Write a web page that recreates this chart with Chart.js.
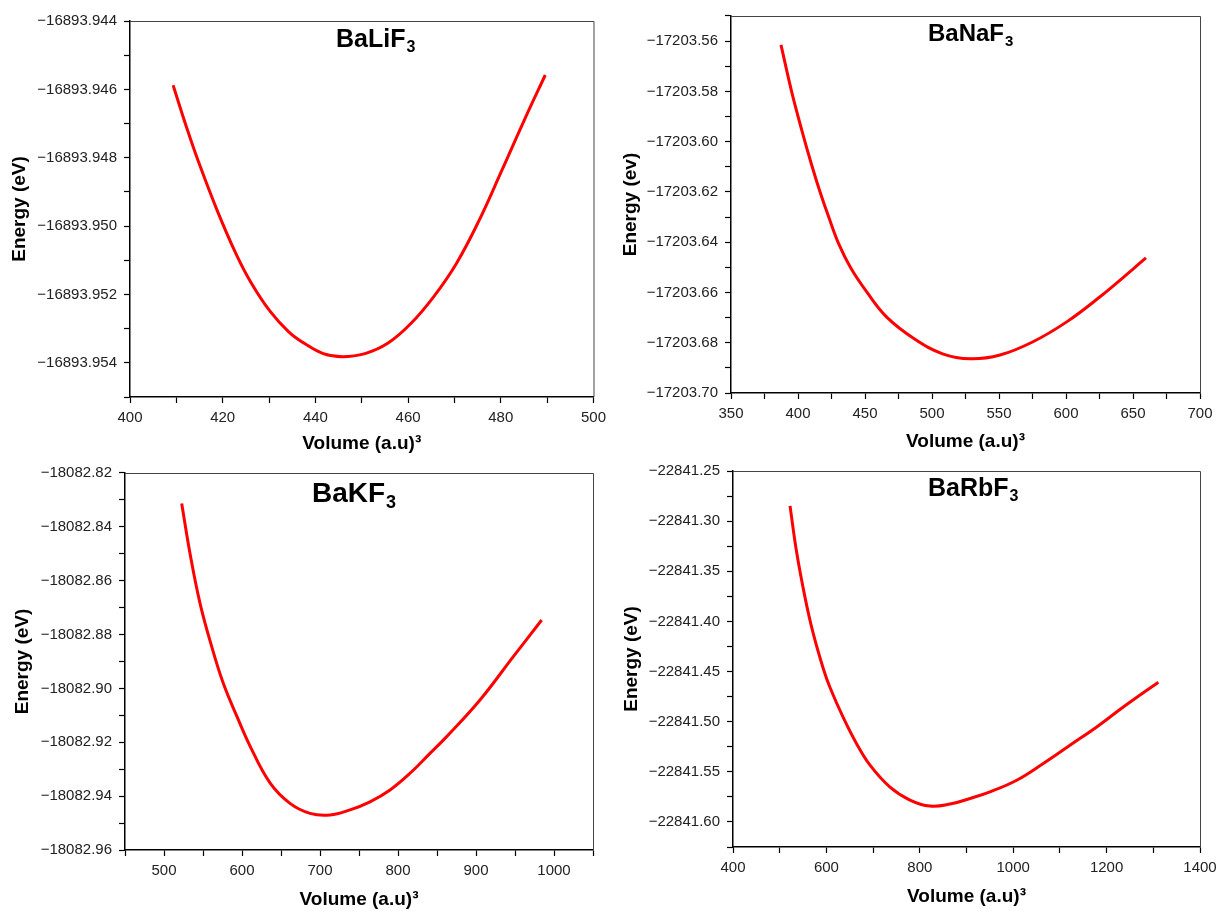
<!DOCTYPE html>
<html lang="en">
<head>
  <meta charset="UTF-8" />
  <title>Energy vs Volume</title>
  <script src="https://cdn.jsdelivr.net/npm/chart.js"></script>
  <style>
    body { margin: 0; background: #fff; }
    #wrap { position: relative; width: 1225px; height: 911px; }
    canvas { position: absolute; }
  </style>
</head>
<body>
  <div id="wrap">
    <canvas id="c1" width="612" height="455" style="left:0;top:0"></canvas>
    <canvas id="c2" width="613" height="455" style="left:612px;top:0"></canvas>
    <canvas id="c3" width="612" height="456" style="left:0;top:455px"></canvas>
    <canvas id="c4" width="613" height="456" style="left:612px;top:455px"></canvas>
  </div>

  <script>
    // BaLiF3
    const liVolume = [409.3, 412.2, 414.7, 418.8, 422.9, 426.1, 430.2, 434.3, 437.6, 441.7, 445.8,
      450.7, 455.6, 460.6, 465.5, 470.4, 475.3, 480.2, 485.1, 489.6];
    const liEnergy = [-16893.94588, -16893.94711, -16893.94809, -16893.94954, -16893.95082, -16893.95165,
      -16893.95249, -16893.95310, -16893.95343, -16893.95373, -16893.95382, -16893.95373, -16893.95343,
      -16893.95285, -16893.95207, -16893.95110, -16893.94984, -16893.94838, -16893.94689, -16893.94558];
    const liVolumeTicks = [400, 420, 440, 460, 480, 500];
    const liEnergyTicks = [-16893.954, -16893.952, -16893.950, -16893.948, -16893.946, -16893.944];

    // BaNaF3
    const naVolume = [387.3, 395.3, 402.8, 410.2, 416.4, 423.0, 430.4, 439.4, 451.3, 466.2, 487.0,
      507.9, 528.7, 550.7, 575.4, 600.8, 625.4, 650.0, 659.7];
    const naEnergy = [-17203.5615, -17203.5802, -17203.5954, -17203.6093, -17203.6199, -17203.6301,
      -17203.6407, -17203.6503, -17203.6598, -17203.6698, -17203.6785, -17203.6844, -17203.6864,
      -17203.6849, -17203.6796, -17203.6716, -17203.6617, -17203.6507, -17203.6462];
    const naVolumeTicks = [350, 400, 450, 500, 550, 600, 650, 700];
    const naEnergyTicks = [-17203.70, -17203.68, -17203.66, -17203.64, -17203.62, -17203.60, -17203.58, -17203.56];

    // BaKF3
    const kVolume = [522.7, 533.3, 546.2, 561.2, 576.0, 593.2, 610.3, 635.9, 661.5, 687.2, 712.8,
      738.5, 764.1, 789.8, 815.4, 841.0, 862.4, 905.1, 947.8, 984.2];
    const kEnergy = [-18082.8313, -18082.8498, -18082.8684, -18082.8845, -18082.8981, -18082.9102,
      -18082.9214, -18082.9351, -18082.9427, -18082.9464, -18082.9470, -18082.9451, -18082.9421,
      -18082.9377, -18082.9315, -18082.9241, -18082.9179, -18082.9043, -18082.8882, -18082.8746];
    const kVolumeTicks = [500, 600, 700, 800, 900, 1000];
    const kEnergyTicks = [-18082.96, -18082.94, -18082.92, -18082.90, -18082.88, -18082.86, -18082.84, -18082.82];

    // BaRbF3
    const rbVolume = [522.1, 536.4, 554.2, 571.9, 593.4, 607.7, 636.2, 664.9, 693.4, 736.2, 779.0,
      821.8, 864.7, 907.5, 950.3, 1007.5, 1064.4, 1121.6, 1178.8, 1235.7, 1310.7];
    const rbEnergy = [-22841.2848, -22841.3314, -22841.3760, -22841.4123, -22841.4472, -22841.4659,
      -22841.4960, -22841.5222, -22841.5434, -22841.5653, -22841.5782, -22841.5842, -22841.5822,
      -22841.5766, -22841.5700, -22841.5584, -22841.5417, -22841.5235, -22841.5053, -22841.4854, -22841.4606];
    const rbVolumeTicks = [400, 600, 800, 1000, 1200, 1400];
    const rbEnergyTicks = [-22841.60, -22841.55, -22841.50, -22841.45, -22841.40, -22841.35, -22841.30, -22841.25];

    const FONT = '"Liberation Sans", Arial, sans-serif';

    // major ticks from the arrays, one minor tick between each pair
    function tickBuilder(major) {
      return scale => {
        const half = (major[1] - major[0]) / 2;
        const n0 = Math.ceil((scale.min - major[0]) / half - 1e-6);
        const n1 = Math.floor((scale.max - major[0]) / half + 1e-6);
        const out = [];
        for (let n = n0; n <= n1; n++) out.push({ value: major[0] + n * half, isMajor: n % 2 === 0 });
        scale.ticks = out;
      };
    }

    const framePlugin = {
      id: 'frame',
      afterDraw(chart) {
        const { ctx, chartArea: a } = chart;
        const o = chart.options.plugins.frame;
        ctx.save();
        ctx.strokeStyle = '#444';
        ctx.lineWidth = 1;
        ctx.beginPath();
        ctx.moveTo(a.left, a.top + 0.5);
        ctx.lineTo(a.right + 0.5, a.top + 0.5);
        ctx.lineTo(a.right + 0.5, a.bottom);
        ctx.stroke();
        // compound name with subscript 3
        ctx.fillStyle = '#000';
        ctx.textBaseline = 'alphabetic';
        ctx.font = 'bold ' + o.size + 'px ' + FONT;
        ctx.fillText(o.name, o.x, o.y);
        const w = ctx.measureText(o.name).width;
        ctx.font = 'bold ' + Math.round(o.size * 0.64) + 'px ' + FONT;
        ctx.fillText('3', o.x + w + 1, o.y + o.size * 0.2);
        ctx.restore();
      }
    };

    function makePanel(id, p) {
      new Chart(document.getElementById(id), {
        type: 'scatter',
        data: {
          datasets: [{
            data: p.vol.map((v, i) => ({ x: v, y: p.en[i] })),
            showLine: true,
            borderColor: '#ff0000',
            borderWidth: 3,
            pointRadius: 0,
            tension: 0.4
          }]
        },
        plugins: [framePlugin],
        options: {
          responsive: false,
          animation: false,
          layout: { padding: { top: p.padT, right: p.padR, left: 0, bottom: 0 } },
          plugins: {
            legend: { display: false },
            tooltip: { enabled: false },
            frame: { name: p.name, size: p.titleSize, x: p.titleX, y: p.titleY }
          },
          scales: {
            x: {
              type: 'linear',
              min: p.xMin, max: p.xMax,
              afterBuildTicks: tickBuilder(p.xTicks),
              afterFit: s => { s.height = p.xh; },
              border: { color: '#000', width: 1.5 },
              grid: { drawOnChartArea: false, drawTicks: true, tickLength: 6, color: '#000', tickWidth: 1.2 },
              ticks: {
                autoSkip: false, maxRotation: 0, padding: 6, color: '#222',
                font: { family: FONT, size: 15 },
                callback: (v, i, t) => t[i].isMajor ? String(Math.round(v)) : ''
              },
              title: {
                display: true, text: 'Volume (a.u)\u00b3', color: '#000',
                font: { family: FONT, size: 19, weight: 'bold' },
                padding: { top: 0, bottom: p.xTitlePad }
              }
            },
            y: {
              type: 'linear',
              min: p.yMin, max: p.yMax,
              afterBuildTicks: tickBuilder(p.yTicks),
              afterFit: s => { s.width = p.yw; },
              border: { color: '#000', width: 1.5 },
              grid: { drawOnChartArea: false, drawTicks: true, tickLength: 6, color: '#000', tickWidth: 1.2 },
              ticks: {
                autoSkip: false, padding: 7, color: '#222',
                font: { family: FONT, size: 15 },
                callback: (v, i, t) => t[i].isMajor ? v.toFixed(p.dec).replace('-', '\u2212') : ''
              },
              title: {
                display: true, text: p.yLabel, color: '#000',
                font: { family: FONT, size: 19, weight: 'bold' },
                padding: { top: p.yTitlePad, bottom: 0 }
              }
            }
          }
        }
      });
    }

    makePanel('c1', {
      vol: liVolume, en: liEnergy, xTicks: liVolumeTicks, yTicks: liEnergyTicks,
      xMin: 400, xMax: 500, yMin: -16893.955, yMax: -16893.944, dec: 3,
      name: 'BaLiF', titleSize: 25, titleX: 336, titleY: 47, yLabel: 'Energy (eV)',
      yw: 130, padT: 21, padR: 15, xh: 58, xTitlePad: 0, yTitlePad: 8
    });
    makePanel('c2', {
      vol: naVolume, en: naEnergy, xTicks: naVolumeTicks, yTicks: naEnergyTicks,
      xMin: 350, xMax: 700, yMin: -17203.70, yMax: -17203.55, dec: 2,
      name: 'BaNaF', titleSize: 24, titleX: 316, titleY: 41, yLabel: 'Energy (ev)',
      yw: 119, padT: 16, padR: 25, xh: 62, xTitlePad: 2, yTitlePad: 7
    });
    makePanel('c3', {
      vol: kVolume, en: kEnergy, xTicks: kVolumeTicks, yTicks: kEnergyTicks,
      xMin: 450, xMax: 1050, yMin: -18082.96, yMax: -18082.82, dec: 2,
      name: 'BaKF', titleSize: 28, titleX: 312, titleY: 47, yLabel: 'Energy (eV)',
      yw: 125, padT: 18, padR: 19, xh: 61, xTitlePad: 0, yTitlePad: 11
    });
    makePanel('c4', {
      vol: rbVolume, en: rbEnergy, xTicks: rbVolumeTicks, yTicks: rbEnergyTicks,
      xMin: 400, xMax: 1400, yMin: -22841.625, yMax: -22841.25, dec: 2,
      name: 'BaRbF', titleSize: 25, titleX: 316, titleY: 41, yLabel: 'Energy (eV)',
      yw: 121, padT: 15, padR: 25, xh: 64, xTitlePad: 3, yTitlePad: 8
    });
  </script>
</body>
</html>
